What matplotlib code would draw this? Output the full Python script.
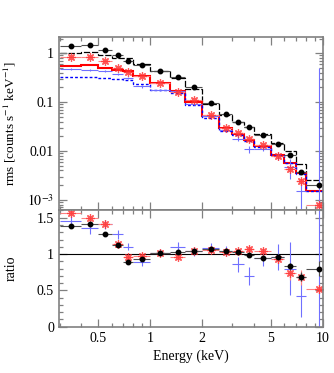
import numpy as np
import matplotlib
matplotlib.use("Agg")
import matplotlib.pyplot as plt
from matplotlib.ticker import FixedLocator, FuncFormatter, NullFormatter, LogLocator

plt.rcParams['font.family'] = ['Liberation Serif', 'DejaVu Serif']
plt.rcParams['mathtext.fontset'] = 'stix'

# Energy bin edges (keV)
edges = [0.3, 0.4, 0.5, 0.6, 0.7, 0.8, 1.0, 1.3, 1.6, 2.0, 2.5, 3.0, 3.5, 4.0, 5.0, 6.0, 7.0, 8.0, 11.0]

# black data set
black_rms = [1.41, 1.48, 1.15, 0.92, 0.71, 0.57, 0.44, 0.32, 0.20, 0.098, 0.056, 0.040, 0.031, 0.021, 0.0139, 0.0081, 0.0038, 0.0020]
black_model = [1.02, 1.04, 0.905, 0.81, 0.79, 0.61, 0.435, 0.31, 0.19, 0.092, 0.054, 0.039, 0.031, 0.022, 0.0144, 0.0098, 0.0055, 0.0025]
black_ratio = [1.385, 1.42, 1.27, 1.13, 0.894, 0.93, 1.01, 1.03, 1.045, 1.065, 1.045, 1.03, 0.986, 0.94, 0.963, 0.83, 0.69, 0.80]
black_rerr = [0.02, 0.02, 0.02, 0.02, 0.02, 0.02, 0.02, 0.02, 0.02, 0.02, 0.02, 0.02, 0.03, 0.03, 0.04, 0.05, 0.06, 0.1]

# red data set
red_rms = [0.85, 0.85, 0.71, 0.51, 0.41, 0.34, 0.25, 0.165, 0.108, 0.055, 0.030, 0.023, 0.018, 0.0134, 0.0078, 0.0042, 0.0024, 0.00078]
red_model = [0.54, 0.57, 0.50, 0.45, 0.43, 0.35, 0.25, 0.17, 0.103, 0.052, 0.029, 0.022, 0.017, 0.0128, 0.0084, 0.0057, 0.0035, 0.0015]
red_ratio = [1.57, 1.50, 1.41, 1.14, 0.955, 0.98, 1.01, 0.96, 1.045, 1.05, 1.03, 1.045, 1.065, 1.045, 0.93, 0.74, 0.68, 0.52]
red_rerr = [0.03, 0.03, 0.03, 0.03, 0.03, 0.03, 0.03, 0.03, 0.03, 0.03, 0.03, 0.03, 0.04, 0.04, 0.05, 0.09, 0.1, 0.05]

# blue data set
blue_rms = [0.48, 0.45, 0.44, 0.38, 0.31, 0.21, 0.18, 0.17, 0.092, 0.051, 0.027, 0.018, 0.011, 0.011, 0.0079, 0.0048, 0.0015, 1e-6]
blue_model = [0.33, 0.33, 0.31, 0.30, 0.28, 0.24, 0.18, 0.153, 0.088, 0.047, 0.026, 0.021, 0.016, 0.012, 0.0082, 0.0056, 0.0034, 0.0015]
blue_ratio = [1.45, 1.36, 1.41, 1.27, 1.10, 0.89, 1.02, 1.10, 1.04, 1.09, 1.04, 0.86, 0.70, 0.94, 0.96, 0.80, 0.43, 0.0]
blue_rerr = [0.08, 0.08, 0.06, 0.06, 0.05, 0.05, 0.05, 0.06, 0.06, 0.06, 0.07, 0.1, 0.12, 0.1, 0.18, 0.36, 0.3, 2.0]

e_lo = np.array(edges[:-1])
e_hi = np.array(edges[1:])
e_mid = (e_lo + e_hi) / 2
e_mid[-1] = 9.5
xerr = [e_mid - e_lo, e_hi - e_mid]

fig = plt.figure(figsize=(3.34, 3.73), dpi=100)
left, right = 0.1766, 0.966
ax1 = fig.add_axes([left, 0.4378, right - left, 0.9008 - 0.4378])
ax2 = fig.add_axes([left, 0.1220, right - left, 0.4378 - 0.1220], sharex=ax1)

spine_col = '#808080'

# models
ax1.stairs(black_model, edges, color='black', lw=0.9, ls=(0, (5, 1.5)), baseline=None)
ax1.stairs(red_model, edges, color='red', lw=1.5, baseline=None)
ax1.stairs(blue_model, edges, color='blue', lw=1.0, ls=(0, (2, 1.5)), baseline=None)

def rel(v, r, e):
    v = np.array(v); r = np.array(r); e = np.array(e)
    out = np.where(r > 0, v * e / np.where(r > 0, r, 1), 0)
    return out

star = (8, 2, 0)

# blue data
b_up = rel(blue_rms, blue_ratio, blue_rerr)
b_up[-1] = 0.5
b_lo = np.minimum(b_up, np.array(blue_rms) * 0.999)
ax1.errorbar(e_mid, blue_rms, xerr=xerr, yerr=[b_lo, b_up], fmt='none',
             ecolor='#7070ff', elinewidth=0.8, capsize=0)
# red data
r_e = rel(red_rms, red_ratio, red_rerr)
ax1.errorbar(e_mid, red_rms, xerr=xerr, yerr=r_e, fmt='none',
             ecolor='#ff8080', elinewidth=0.8, capsize=0)
ax1.plot(e_mid, red_rms, ls='none', marker=star, ms=6, mew=0.9,
         color='#ff3030', alpha=0.8)
# black data
k_e = rel(black_rms, black_ratio, black_rerr)
ax1.errorbar(e_mid, black_rms, xerr=xerr, yerr=k_e, fmt='o', ms=3.2,
             color='black', ecolor='#505050', elinewidth=0.8, capsize=0)

ax1.set_xscale('log')
ax1.set_yscale('log')
ax1.set_xlim(0.297, 10.0)
ax1.set_ylim(6.3e-4, 2.15)

# ratio panel
ax2.axhline(1.0, color='black', lw=0.8)
ax2.errorbar(e_mid, blue_ratio, xerr=xerr, yerr=blue_rerr, fmt='none',
             ecolor='#7070ff', elinewidth=0.8, capsize=0)
ax2.errorbar(e_mid, red_ratio, xerr=xerr, yerr=red_rerr, fmt='none',
             ecolor='#ff8080', elinewidth=0.8, capsize=0)
ax2.plot(e_mid, red_ratio, ls='none', marker=star, ms=6, mew=0.9,
         color='#ff3030', alpha=0.8)
ax2.errorbar(e_mid, black_ratio, xerr=xerr, yerr=black_rerr, fmt='o', ms=3.2,
             color='black', ecolor='#505050', elinewidth=0.8, capsize=0)
ax2.set_ylim(-0.01, 1.61)

# ticks
xt = [0.5, 1, 2, 5, 10]
for ax in (ax1, ax2):
    for s in ax.spines.values():
        s.set_color(spine_col)
        s.set_linewidth(1.2)
    ax.tick_params(which='both', direction='in', top=True, right=True,
                   color=spine_col, labelsize=10, width=0.9)
    ax.tick_params(which='major', length=6)
    ax.tick_params(which='minor', length=3)
    ax.xaxis.set_major_locator(FixedLocator(xt))
    ax.xaxis.set_minor_locator(FixedLocator([0.3, 0.4, 0.6, 0.7, 0.8, 0.9, 3, 4, 6, 7, 8, 9]))
    ax.xaxis.set_minor_formatter(NullFormatter())

ax1.xaxis.set_major_formatter(NullFormatter())
plt.setp(ax1.get_xticklabels(), visible=False)
ax2.xaxis.set_major_formatter(FuncFormatter(lambda v, p: {0.5: '0.5', 1: '1', 2: '2', 5: '5', 10: '10'}.get(v, '')))

ax1.yaxis.set_major_locator(FixedLocator([1e-3, 1e-2, 1e-1, 1]))
ax1.yaxis.set_minor_locator(LogLocator(base=10, subs=np.arange(2, 10), numticks=20))
ax1.yaxis.set_minor_formatter(NullFormatter())
ax1.yaxis.set_major_formatter(FuncFormatter(
    lambda v, p: {1e-3: r'$10^{-3}$', 1e-2: '0.01', 1e-1: '0.1', 1: '1'}.get(v, '')))

ax2.yaxis.set_major_locator(FixedLocator([0, 0.5, 1, 1.5]))
ax2.yaxis.set_minor_locator(FixedLocator(np.arange(0.1, 1.61, 0.1)))
ax2.yaxis.set_major_formatter(FuncFormatter(lambda v, p: {0: '0', 0.5: '0.5', 1: '1', 1.5: '1.5'}.get(round(v, 2), '')))

ax1.set_ylabel(r'rms [counts s$^{-1}$ keV$^{-1}$]', fontsize=9.5)
ax2.set_ylabel('ratio', fontsize=10)
ax2.set_xlabel('Energy (keV)', fontsize=10, labelpad=3)
ax1.yaxis.set_label_coords(-0.155, 0.5)
ax2.yaxis.set_label_coords(-0.155, 0.5)

fig.savefig('out.png', dpi=100)
